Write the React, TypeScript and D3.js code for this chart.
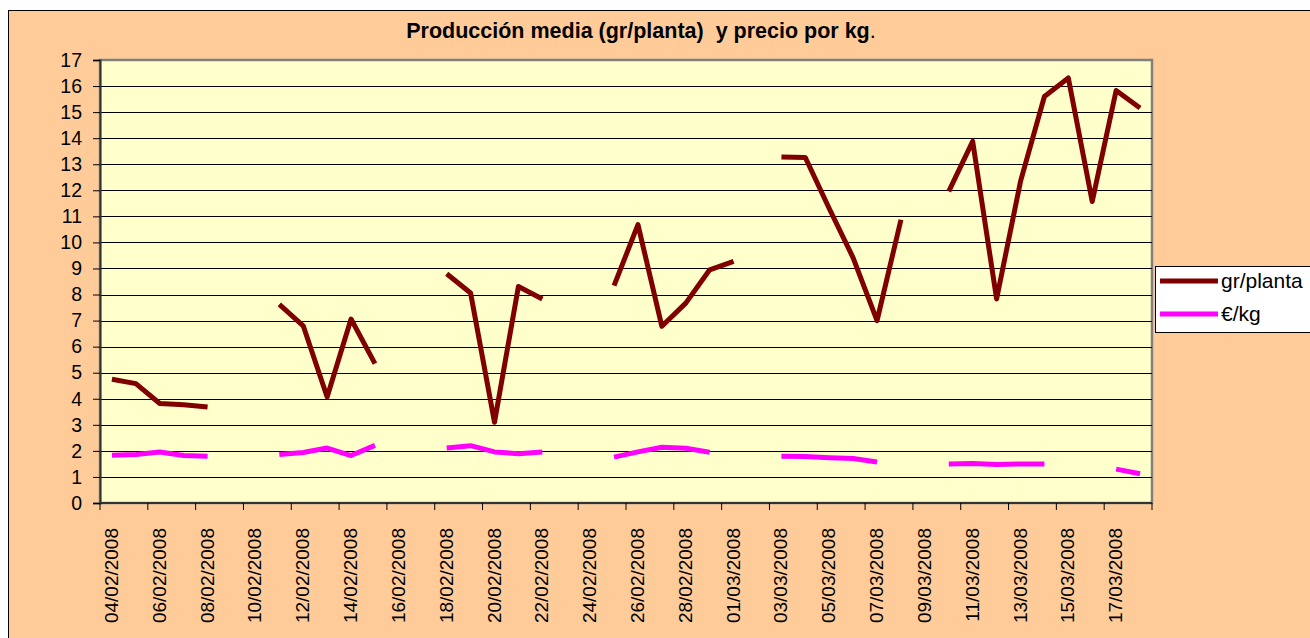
import React, { useEffect, useRef } from "react";
import * as d3 from "d3";

const dates = [
  "04/02/2008", "05/02/2008", "06/02/2008", "07/02/2008", "08/02/2008", "09/02/2008",
  "10/02/2008", "11/02/2008", "12/02/2008", "13/02/2008", "14/02/2008", "15/02/2008",
  "16/02/2008", "17/02/2008", "18/02/2008", "19/02/2008", "20/02/2008", "21/02/2008",
  "22/02/2008", "23/02/2008", "24/02/2008", "25/02/2008", "26/02/2008", "27/02/2008",
  "28/02/2008", "29/02/2008", "01/03/2008", "02/03/2008", "03/03/2008", "04/03/2008",
  "05/03/2008", "06/03/2008", "07/03/2008", "08/03/2008", "09/03/2008", "10/03/2008",
  "11/03/2008", "12/03/2008", "13/03/2008", "14/03/2008", "15/03/2008", "16/03/2008",
  "17/03/2008", "18/03/2008",
];

// gr/planta
const grPlanta: (number | null)[] = [
  4.75, 4.58, 3.82, 3.77, 3.68, null, null, 7.62, 6.8, 4.07, 7.06, 5.35,
  null, null, 8.8, 8.06, 3.1, 8.31, 7.83, null, null, 8.34, 10.68, 6.78,
  7.67, 8.95, 9.27, null, 13.28, 13.26, 11.3, 9.41, 7.0, 10.87, null, 11.96,
  13.88, 7.83, 12.34, 15.6, 16.31, 11.57, 15.83, 15.16,
];

// €/kg
const euroKg: (number | null)[] = [
  1.83, 1.86, 1.96, 1.82, 1.79, null, null, 1.86, 1.94, 2.11, 1.82, 2.21,
  null, null, 2.11, 2.2, 1.96, 1.89, 1.96, null, null, 1.76, 1.96, 2.14,
  2.1, 1.95, null, null, 1.79, 1.78, 1.74, 1.71, 1.57, null, null, 1.5,
  1.52, 1.48, 1.5, 1.5, null, null, 1.3, 1.12,
];

const yTicks = d3.range(0, 18);

const series = [
  { name: "gr/planta", values: grPlanta, color: "#800000" },
  { name: "€/kg", values: euroKg, color: "#FF00FF" },
];

const FONT = "'Liberation Sans', Arial, sans-serif";

const Chart = () => {
  const svgRef = useRef<SVGSVGElement>(null);

  useEffect(() => {
    const svg = d3.select(svgRef.current);
    svg.selectAll("*").remove();

    const plot = { left: 100, right: 1152, top: 60, bottom: 503 };

    const x = d3.scaleBand().domain(dates).range([plot.left, plot.right]).padding(0);
    const y = d3.scaleLinear().domain([0, 17]).range([plot.bottom, plot.top]);
    const cx = (i: number) => (x(dates[i]) as number) + x.bandwidth() / 2;

    // chart area
    svg.append("rect").attr("width", 1310).attr("height", 638).attr("fill", "#fff");
    svg.append("rect")
      .attr("x", 8.5).attr("y", 10.5).attr("width", 1320).attr("height", 650)
      .attr("fill", "#FFCC99").attr("stroke", "#000").attr("stroke-width", 1);

    // title (double space kept as in the original)
    const title = svg.append("text")
      .attr("x", 641).attr("y", 38)
      .attr("text-anchor", "middle")
      .style("white-space", "pre")
      .attr("font-family", FONT).attr("font-size", 21.5).attr("font-weight", "bold")
      .attr("fill", "#000");
    title.append("tspan").text("Producción media (gr/planta)  y precio por kg");
    title.append("tspan").attr("font-weight", "normal").text(".");

    // plot area
    svg.append("rect")
      .attr("x", plot.left).attr("y", plot.top)
      .attr("width", plot.right - plot.left).attr("height", plot.bottom - plot.top)
      .attr("fill", "#FFFFCC").attr("stroke", "#808080").attr("stroke-width", 2.5);

    // gridlines
    svg.append("g").selectAll("line")
      .data(yTicks.filter((t) => t > 0 && t < 17))
      .join("line")
      .attr("x1", plot.left).attr("x2", plot.right)
      .attr("y1", (d) => Math.round(y(d)) + 0.5).attr("y2", (d) => Math.round(y(d)) + 0.5)
      .attr("stroke", "#000").attr("stroke-width", 1);

    // y axis
    const yAxis = svg.append("g")
      .attr("transform", `translate(${plot.left},0)`)
      .call(d3.axisLeft(y).tickValues(yTicks).tickSize(7).tickPadding(11).tickFormat(d3.format("d")));
    yAxis.select(".domain").attr("stroke", "#333").attr("stroke-width", 2);
    yAxis.selectAll(".tick line").attr("stroke", "#000");
    yAxis.selectAll(".tick text")
      .attr("font-family", FONT).attr("font-size", 19.5).attr("fill", "#000");

    // x axis: ticks every 2 categories, labels at category centres
    const tickIdx = d3.range(0, dates.length + 1, 2);
    const xg = svg.append("g");
    xg.append("line")
      .attr("x1", plot.left).attr("x2", plot.right)
      .attr("y1", plot.bottom).attr("y2", plot.bottom)
      .attr("stroke", "#333").attr("stroke-width", 2);
    xg.selectAll("line.tick")
      .data(tickIdx)
      .join("line")
      .attr("class", "tick")
      .attr("x1", (i) => plot.left + i * x.bandwidth())
      .attr("x2", (i) => plot.left + i * x.bandwidth())
      .attr("y1", plot.bottom).attr("y2", plot.bottom + 7)
      .attr("stroke", "#000").attr("stroke-width", 1);
    xg.selectAll("text")
      .data(tickIdx.filter((i) => i < dates.length))
      .join("text")
      .attr("transform", (i) => `translate(${cx(i) + 6},528) rotate(-90)`)
      .attr("text-anchor", "end")
      .attr("font-family", FONT).attr("font-size", 19).attr("fill", "#000")
      .text((i) => dates[i]);

    // lines
    const line = d3.line<number | null>()
      .defined((d) => d != null)
      .x((_, i) => cx(i))
      .y((d) => y(d as number));

    series.forEach((s) => {
      svg.append("path")
        .attr("d", line(s.values))
        .attr("fill", "none")
        .attr("stroke", s.color)
        .attr("stroke-width", 5)
        .attr("stroke-linejoin", "round");
    });

    // legend
    const lg = svg.append("g");
    lg.append("rect")
      .attr("x", 1155.5).attr("y", 266.5).attr("width", 200).attr("height", 66)
      .attr("fill", "#fff").attr("stroke", "#000").attr("stroke-width", 1);
    series.forEach((s, i) => {
      const ly = 281 + i * 33;
      lg.append("line")
        .attr("x1", 1160).attr("x2", 1218).attr("y1", ly).attr("y2", ly)
        .attr("stroke", s.color).attr("stroke-width", 5);
      lg.append("text")
        .attr("x", 1221).attr("y", ly + 7)
        .attr("font-family", FONT).attr("font-size", 21).attr("fill", "#000")
        .text(s.name);
    });
  }, []);

  return (
    <svg
      ref={svgRef}
      width={1310}
      height={638}
      style={{ position: "absolute", left: 0, top: 0, display: "block" }}
    />
  );
};

export default function App() {
  return <Chart />;
}
